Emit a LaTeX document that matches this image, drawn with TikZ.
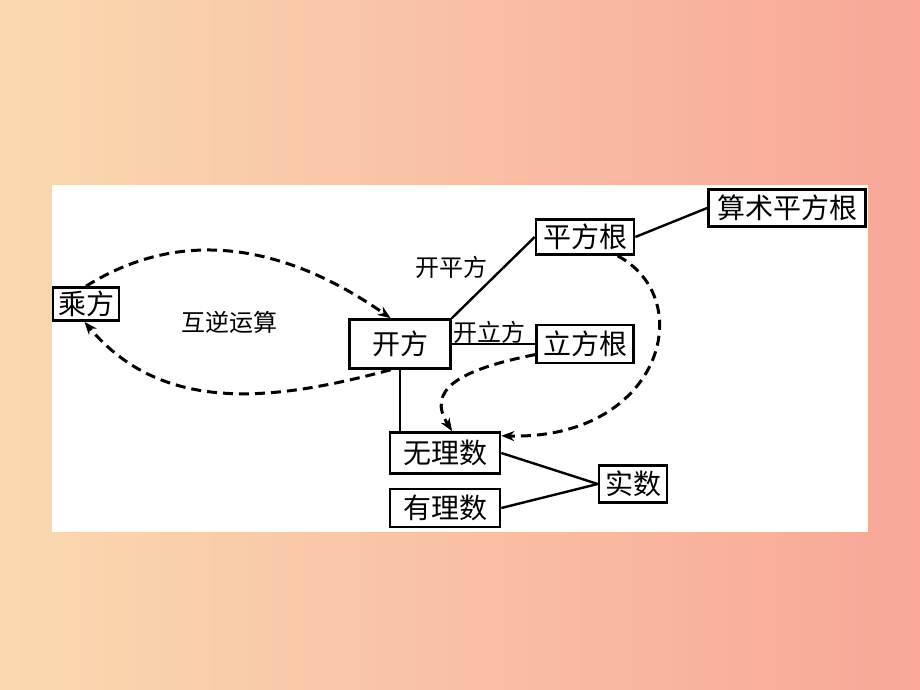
\documentclass[tikz,border=0pt]{standalone}
\usepackage{fontspec}
\setmainfont{Noto Sans CJK SC}
\usepackage{xcolor}
\usetikzlibrary{arrows.meta}
\usetikzlibrary{calc}

\definecolor{peachL}{RGB}{250,217,176}
\definecolor{peachR}{RGB}{248,167,152}

\begin{document}
\begin{tikzpicture}[x=1pt,y=1pt,
		box/.style={draw, line width=2.6pt, inner sep=0pt, font=\fontsize{28}{30}\selectfont},
		lab/.style={inner sep=0pt, font=\fontsize{24}{26}\selectfont},
		link/.style={line width=2.4pt},
		back/.style={line width=3pt, dashed, dash pattern=on 10pt off 6pt, -{Stealth[length=13pt,width=10pt]}}]
			%background
			\useasboundingbox (0,0) rectangle (920,690);
			\shade[left color=peachL, right color=peachR] (0,0) rectangle (920,690);
			\fill[white] (52,158) rectangle (868,505);
			
			% boxes
			\node[box, minimum width=66, minimum height=33] (chengfang) at (86,386) {乘方};
			\node[box, minimum width=101, minimum height=49] (kaifang) at (400,346) {开方};
			\node[box, minimum width=98, minimum height=35] (pingfanggen) at (585,453) {平方根};
			\node[box, minimum width=157, minimum height=37] (suanshu) at (787,482) {算术平方根};
			\node[box, minimum width=97, minimum height=38] (lifanggen) at (585,346) {立方根};
			\node[box, minimum width=110, minimum height=41] (wuli) at (445,237) {无理数};
			\node[box, minimum width=110, minimum height=38] (youli) at (445,182) {有理数};
			\node[box, minimum width=68, minimum height=37] (shishu) at (633,206) {实数};
			
			% labels
			\node[lab] (huni) at (229,368) {互逆运算};
			\node[lab] (kaiping) at (451,423) {开平方};
			\node[lab] (kaili) at (489,358) {开立方};
			
			% lines
			\draw[link] (kaifang.north east) -- (pingfanggen.west);
			\draw[line width=2pt] (kaifang.east) -- (lifanggen.west);
			\draw[link] (pingfanggen.east) -- (suanshu.west);
			\draw[line width=2pt] (kaifang.south) -- (kaifang.south |- wuli.north);
			\draw[link] (wuli.east) -- (shishu.west);
			\draw[link] (youli.east) -- (shishu.west);
			
			% dashed arrows
			\draw[back] (chengfang.north) to[out=32, in=145] (kaifang.110);
			\draw[back] (kaifang.250) to[out=195, in=-50] (chengfang.265);
			\draw[back] (pingfanggen.-30) .. controls (700,390) and (660,250) .. (wuli.17);
			\draw[back] (lifanggen.192) .. controls (458,320) and (426,300) .. (wuli.72);
			
		\end{tikzpicture}
\end{document}
